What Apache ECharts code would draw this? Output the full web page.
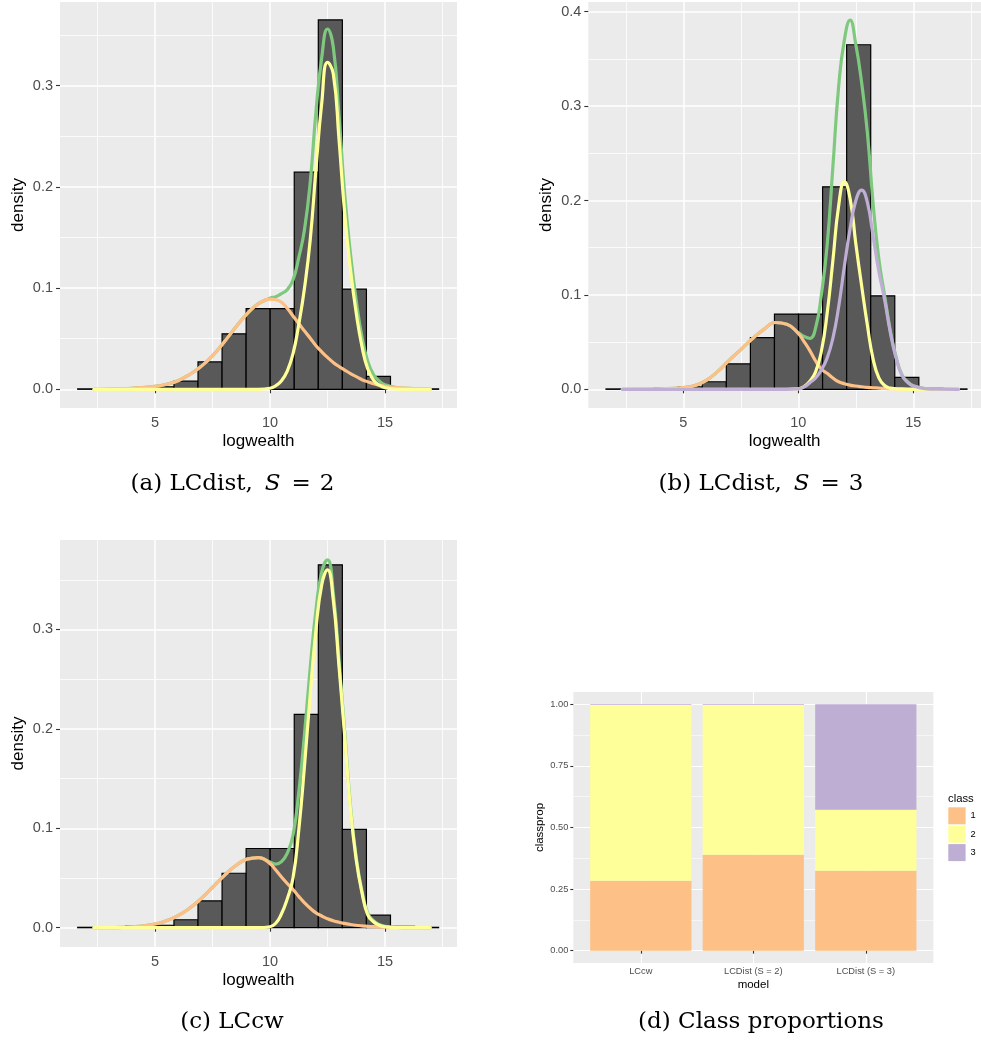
<!DOCTYPE html>
<html><head><meta charset="utf-8">
<script src="https://cdn.jsdelivr.net/npm/echarts@6/dist/echarts.min.js"></script>
<style>html,body{margin:0;padding:0;background:#fff;}#chart{width:981px;height:1042px;}</style>
</head><body><div id="chart"></div>
<script>
// ---------- data ----------
const binEdges = [1.64, 2.686, 3.732, 4.778, 5.824, 6.870, 7.916, 8.962, 10.008, 11.054, 12.100, 13.146, 14.192, 15.238, 16.284, 17.330];
const binDensity = [0.0004, 0.0002, 0.0015, 0.0025, 0.0080, 0.0270, 0.0548, 0.0797, 0.0797, 0.2145, 0.3650, 0.0990, 0.0127, 0.0013, 0.0004];

const curveX = [2.35, 3, 4, 5, 5.5, 6, 6.5, 7, 7.5, 8, 8.5, 9, 9.5, 10, 10.25, 10.5, 10.75, 11, 11.25, 11.5, 11.75, 12, 12.25, 12.5, 12.75, 13, 13.25, 13.5, 13.75, 14, 14.25, 14.5, 14.75, 15, 15.5, 16, 16.96];

// (a) LCdist, S = 2
const aOrange = [0.0000, 0.0002, 0.0010, 0.0028, 0.0050, 0.0085, 0.0145, 0.0225, 0.0330, 0.0465, 0.0610, 0.0745, 0.0845, 0.0890, 0.0885, 0.0860, 0.0800, 0.0725, 0.0650, 0.0575, 0.0505, 0.0430, 0.0370, 0.0315, 0.0265, 0.0225, 0.0190, 0.0155, 0.0125, 0.0095, 0.0075, 0.0055, 0.0042, 0.0030, 0.0016, 0.0008, 0.0002];
const aYellow = [0, 0, 0, 0, 0, 0, 0, 0, 0, 0, 0, 0, 0, 0.0010, 0.0035, 0.0085, 0.0180, 0.0350, 0.0640, 0.1000, 0.1480, 0.2180, 0.2830, 0.3230, 0.3120, 0.2470, 0.1730, 0.1180, 0.0750, 0.0420, 0.0200, 0.0090, 0.0040, 0.0015, 0.0002, 0, 0];
const aGreen = [0.0000, 0.0002, 0.0010, 0.0028, 0.0050, 0.0085, 0.0145, 0.0225, 0.0330, 0.0465, 0.0610, 0.0745, 0.0846, 0.0900, 0.0915, 0.0945, 0.0985, 0.1080, 0.1300, 0.1580, 0.2050, 0.2750, 0.3280, 0.3560, 0.3385, 0.2700, 0.1920, 0.1335, 0.0875, 0.0515, 0.0275, 0.0145, 0.0082, 0.0045, 0.0018, 0.0008, 0.0002];

// (b) LCdist, S = 3
const bOrange = [0, 0.0001, 0.0005, 0.0018, 0.0040, 0.0095, 0.0190, 0.0310, 0.0420, 0.0535, 0.0635, 0.0708, 0.0690, 0.0590, 0.0505, 0.0410, 0.0300, 0.0215, 0.0170, 0.0120, 0.0080, 0.0060, 0.0045, 0.0035, 0.0027, 0.0020, 0.0016, 0.0012, 0.0009, 0.0007, 0.0005, 0.0004, 0.0003, 0.0002, 0.0001, 0, 0];
const bYellow = [0, 0, 0, 0, 0, 0, 0, 0, 0, 0, 0, 0, 0, 0.0005, 0.0030, 0.0085, 0.0185, 0.0400, 0.0800, 0.1360, 0.1940, 0.2200, 0.2020, 0.1540, 0.1100, 0.0680, 0.0320, 0.0120, 0.0040, 0.0012, 0.0005, 0.0002, 0, 0, 0, 0, 0];
const bPurple = [0, 0, 0, 0, 0, 0, 0, 0, 0, 0, 0, 0, 0, 0.0005, 0.0025, 0.0070, 0.0120, 0.0205, 0.0330, 0.0540, 0.0870, 0.1300, 0.1700, 0.2000, 0.2110, 0.1980, 0.1620, 0.1250, 0.0950, 0.0600, 0.0330, 0.0150, 0.0075, 0.0035, 0.0007, 0.0001, 0];
const bGreen = [0, 0.0001, 0.0005, 0.0018, 0.0040, 0.0095, 0.0190, 0.0310, 0.0420, 0.0535, 0.0635, 0.0708, 0.0690, 0.0600, 0.0560, 0.0540, 0.0650, 0.1000, 0.1520, 0.2350, 0.3200, 0.3700, 0.3910, 0.3650, 0.3250, 0.2720, 0.1970, 0.1380, 0.0995, 0.0620, 0.0340, 0.0155, 0.0078, 0.0037, 0.0008, 0.0001, 0];

// (c) LCcw
const cOrange = [0, 0.0001, 0.0008, 0.0037, 0.0070, 0.0121, 0.0195, 0.0292, 0.0406, 0.0522, 0.0623, 0.0690, 0.0706, 0.0645, 0.0580, 0.0510, 0.0445, 0.0385, 0.0315, 0.0250, 0.0195, 0.0150, 0.0118, 0.0090, 0.0070, 0.0055, 0.0043, 0.0032, 0.0025, 0.0018, 0.0014, 0.0010, 0.0007, 0.0005, 0.0002, 0.0001, 0];
const cYellow = [0, 0, 0, 0, 0, 0, 0, 0, 0, 0, 0, 0, 0, 0.0010, 0.0045, 0.0140, 0.0290, 0.0500, 0.0980, 0.1630, 0.2350, 0.3000, 0.3450, 0.3600, 0.3300, 0.2630, 0.1920, 0.1190, 0.0680, 0.0350, 0.0130, 0.0060, 0.0025, 0.0010, 0.0001, 0, 0];
const cGreen = [0, 0.0001, 0.0008, 0.0037, 0.0070, 0.0121, 0.0195, 0.0292, 0.0406, 0.0522, 0.0623, 0.0690, 0.0706, 0.0660, 0.0640, 0.0665, 0.0750, 0.0930, 0.1360, 0.1950, 0.2620, 0.3200, 0.3580, 0.3700, 0.3370, 0.2685, 0.1963, 0.1222, 0.0705, 0.0368, 0.0144, 0.0070, 0.0032, 0.0015, 0.0003, 0.0001, 0];

// (d) Class proportions
const models = ['LCcw', 'LCDist (S = 2)', 'LCDist (S = 3)'];
const modelPos = [1, 2, 3];
const classNames = ['1', '2', '3'];
const propClass1 = [0.284, 0.389, 0.324];
const propClass2 = [0.713, 0.608, 0.248];
const propClass3 = [0.003, 0.003, 0.428];

// tick values
const xTicks = [5, 10, 15];
const xMinor = [2.5, 7.5, 12.5, 17.5];
const yTicksAC = [0, 0.1, 0.2, 0.3];
const yTicksB = [0, 0.1, 0.2, 0.3, 0.4];
const yMinorDens = [0.05, 0.15, 0.25, 0.35];
const yTicksD = [0, 0.25, 0.5, 0.75, 1];
const yMinorD = [0.125, 0.375, 0.625, 0.875];

// ---------- styles ----------
const COL = {green: '#7FC97F', orange: '#FDC086', yellow: '#FFFF99', purple: '#BEAED4'};
const SANS = 'Liberation Sans';
const SERIF = 'DejaVu Serif';

const grids = [
  {left: 60, top: 2, width: 397, height: 406},
  {left: 588.3, top: 2, width: 392.7, height: 406},
  {left: 60, top: 540, width: 397, height: 407},
  {left: 573.3, top: 692, width: 360, height: 271}
].map(g => Object.assign({show: true, backgroundColor: '#EBEBEB', borderWidth: 0, containLabel: false, outerBoundsMode: 'none'}, g));

const xRanges = [[0.87, 18.13], [0.87, 17.94], [0.87, 18.13], [0.4, 3.6]];
const yRanges = [[-0.0185, 0.3827], [-0.0198, 0.4103], [-0.0194, 0.3900], [-0.05, 1.05]];

const xAxes = [], yAxes = [];
function addAxes(k, xt, xm, yt, ym, yfmt, xfmt, small, xName, yName) {
  const tickFs = small ? 9.3 : 14.5, nameFs = small ? 11.5 : 17;
  const majW = small ? 1.1 : 1.5, minW = small ? 0.55 : 0.8;
  xAxes.push({
    type: 'value', gridIndex: k, min: xRanges[k][0], max: xRanges[k][1], position: 'bottom',
    axisLine: {show: false},
    axisTick: {show: true, length: small ? 3 : 4, customValues: xt, lineStyle: {color: '#333333', width: 1.1}},
    axisLabel: {customValues: xt, formatter: xfmt, color: '#4D4D4D', fontSize: tickFs, fontFamily: SANS, margin: small ? 4 : 7},
    splitLine: {show: true, lineStyle: {color: '#FFFFFF', width: majW}},
    name: xName, nameLocation: 'middle', nameGap: small ? 16 : 25,
    nameTextStyle: {color: '#000', fontSize: nameFs, fontFamily: SANS}
  });
  xAxes.push({
    type: 'value', gridIndex: k, min: xRanges[k][0], max: xRanges[k][1], position: 'bottom',
    axisLine: {show: false}, axisTick: {show: false, customValues: xm}, axisLabel: {show: false},
    splitLine: {show: xm.length > 0, lineStyle: {color: '#FFFFFF', width: minW}}
  });
  yAxes.push({
    type: 'value', gridIndex: k, min: yRanges[k][0], max: yRanges[k][1], position: 'left',
    axisLine: {show: false},
    axisTick: {show: true, length: small ? 3 : 4, customValues: yt, lineStyle: {color: '#333333', width: 1.1}},
    axisLabel: {customValues: yt, formatter: yfmt, color: '#4D4D4D', fontSize: tickFs, fontFamily: SANS, margin: small ? 5 : 7},
    splitLine: {show: true, lineStyle: {color: '#FFFFFF', width: majW}},
    name: yName, nameLocation: 'middle', nameRotate: 90, nameGap: small ? 27 : 33,
    nameTextStyle: {color: '#000', fontSize: nameFs, fontFamily: SANS}
  });
  yAxes.push({
    type: 'value', gridIndex: k, min: yRanges[k][0], max: yRanges[k][1], position: 'left',
    axisLine: {show: false}, axisTick: {show: false, customValues: ym}, axisLabel: {show: false},
    splitLine: {show: true, lineStyle: {color: '#FFFFFF', width: minW}}
  });
}
const f1 = v => Number(v).toFixed(1);
const f2 = v => Number(v).toFixed(2);
const fInt = v => String(Math.round(v));
const fModel = v => models[modelPos.indexOf(Math.round(v))];
addAxes(0, xTicks, xMinor, yTicksAC, yMinorDens, f1, fInt, false, 'logwealth', 'density');
addAxes(1, xTicks, xMinor, yTicksB, yMinorDens, f1, fInt, false, 'logwealth', 'density');
addAxes(2, xTicks, xMinor, yTicksAC, yMinorDens, f1, fInt, false, 'logwealth', 'density');
addAxes(3, modelPos, [], yTicksD, yMinorD, f2, fModel, true, 'model', 'classprop');

const histData = binDensity.map((d, i) => [binEdges[i], binEdges[i + 1], d]);

function histSeries(k) {
  return {
    type: 'custom', xAxisIndex: 2 * k, yAxisIndex: 2 * k, z: 2, silent: true,
    encode: {x: [0, 1], y: 2},
    data: histData,
    renderItem: (params, api) => {
      const p0 = api.coord([api.value(0), 0]);
      const p1 = api.coord([api.value(1), api.value(2)]);
      return {type: 'rect', shape: {x: p0[0], y: p1[1], width: p1[0] - p0[0], height: p0[1] - p1[1]},
              style: {fill: '#595959', stroke: '#000000', lineWidth: 1.2}};
    }
  };
}
function curve(k, arr, color) {
  return {
    type: 'line', xAxisIndex: 2 * k, yAxisIndex: 2 * k, z: 3, silent: true,
    data: curveX.map((x, i) => [x, arr[i]]),
    showSymbol: false, symbol: 'none', smooth: 0.5,
    lineStyle: {color: color, width: 3.2, cap: 'round', join: 'round'},
    itemStyle: {color: color}
  };
}

const cls = [propClass1, propClass2, propClass3];
const clsColors = [COL.orange, COL.yellow, COL.purple];
const stackSeries = cls.map((arr, c) => {
  const data = modelPos.map((x, i) => {
    let bottom = 0;
    for (let j = 0; j < c; j++) bottom += cls[j][i];
    return [x, bottom, bottom + arr[i]];
  });
  return {
    type: 'custom', name: classNames[c], xAxisIndex: 6, yAxisIndex: 6, z: 2, silent: true,
    encode: {x: 0, y: [1, 2]},
    itemStyle: {color: clsColors[c]},
    data: data,
    renderItem: (params, api) => {
      const a = api.coord([api.value(0) - 0.45, api.value(2)]);
      const b = api.coord([api.value(0) + 0.45, api.value(1)]);
      return {type: 'rect', shape: {x: a[0], y: a[1], width: b[0] - a[0], height: b[1] - a[1]},
              style: {fill: api.visual('color')}};
    }
  };
});

const capStyle = {
  fontFamily: SERIF, fontSize: 23, color: '#000', fontWeight: 'normal',
  rich: {
    t: {fontFamily: SERIF, fontSize: 23, color: '#000'},
    s: {fontFamily: SERIF, fontSize: 23, color: '#000', fontStyle: 'italic', padding: [0, 0, 0, 12]},
    e: {fontFamily: SERIF, fontSize: 23, color: '#000', padding: [0, 9, 0, 11]}
  }
};
function caption(text, cx, cy) {
  return {text: text, left: cx, top: cy, textAlign: 'center', textVerticalAlign: 'middle', padding: 0, textStyle: capStyle};
}

const option = {
  animation: false,
  backgroundColor: '#FFFFFF',
  grid: grids,
  xAxis: xAxes,
  yAxis: yAxes,
  title: [
    caption('{t|(a) LCdist,}{s|S}{e|=}{t|2}', 232.5, 484),
    caption('{t|(b) LCdist,}{s|S}{e|=}{t|3}', 761, 484),
    caption('{t|(c) LCcw}', 232, 1022),
    caption('{t|(d) Class proportions}', 761, 1022),
    {text: 'class', left: 948, top: 798.5, textVerticalAlign: 'middle', padding: 0,
     textStyle: {fontFamily: SANS, fontSize: 11.3, color: '#000', fontWeight: 'normal'}}
  ],
  legend: {
    data: classNames, orient: 'vertical', left: 948.3, top: 807.3, padding: 0,
    itemWidth: 17.3, itemHeight: 17, itemGap: 1.4, icon: 'rect', selectedMode: false,
    textStyle: {fontFamily: SANS, fontSize: 9.3, color: '#000'}
  },
  series: [
    histSeries(0), curve(0, aGreen, COL.green), curve(0, aOrange, COL.orange), curve(0, aYellow, COL.yellow),
    histSeries(1), curve(1, bGreen, COL.green), curve(1, bOrange, COL.orange), curve(1, bYellow, COL.yellow), curve(1, bPurple, COL.purple),
    histSeries(2), curve(2, cGreen, COL.green), curve(2, cOrange, COL.orange), curve(2, cYellow, COL.yellow)
  ].concat(stackSeries)
};

const chart = echarts.init(document.getElementById('chart'), null, {renderer: 'canvas'});
chart.setOption(option);
</script>
</body></html>
